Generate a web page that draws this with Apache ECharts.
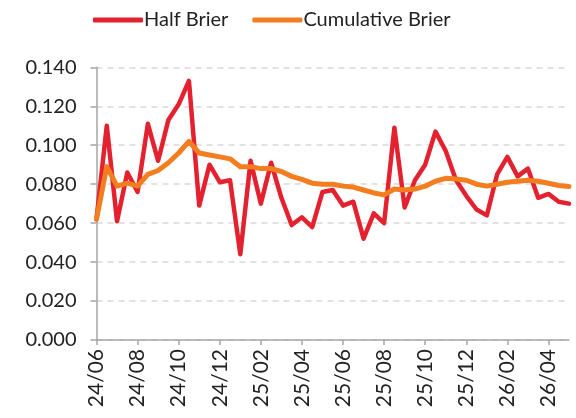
<!DOCTYPE html>
<html>
<head>
<meta charset="utf-8">
<script src="https://cdn.jsdelivr.net/npm/echarts@6/dist/echarts.min.js"></script>
<style>html,body{margin:0;padding:0;background:#fff}#c{width:576px;height:418px}</style>
</head>
<body>
<div id="c"></div>
<script>
const periods = [
  "24/06 H1","24/06 H2","24/07 H1","24/07 H2","24/08 H1","24/08 H2","24/09 H1","24/09 H2",
  "24/10 H1","24/10 H2","24/11 H1","24/11 H2","24/12 H1","24/12 H2","25/01 H1","25/01 H2",
  "25/02 H1","25/02 H2","25/03 H1","25/03 H2","25/04 H1","25/04 H2","25/05 H1","25/05 H2",
  "25/06 H1","25/06 H2","25/07 H1","25/07 H2","25/08 H1","25/08 H2","25/09 H1","25/09 H2",
  "25/10 H1","25/10 H2","25/11 H1","25/11 H2","25/12 H1","25/12 H2","26/01 H1","26/01 H2",
  "26/02 H1","26/02 H2","26/03 H1","26/03 H2","26/04 H1","26/04 H2","26/05 H1"
];
const halfBrier = [0.062,0.110,0.061,0.086,0.076,0.111,0.092,0.113,0.121,0.133,0.069,0.090,0.081,0.082,0.044,0.092,
  0.070,0.091,0.073,0.059,0.063,0.058,0.076,0.077,0.069,0.071,0.052,0.065,0.060,0.109,0.068,0.082,
  0.090,0.107,0.097,0.082,0.074,0.067,0.064,0.085,0.094,0.084,0.088,0.073,0.075,0.071,0.070];
const cumulativeBrier = [0.062,0.089,0.079,0.0805,0.079,0.085,0.087,0.091,0.096,0.102,0.096,0.095,0.094,0.093,0.089,0.089,
  0.088,0.088,0.0865,0.084,0.0825,0.0805,0.080,0.080,0.079,0.0785,0.077,0.0755,0.0745,0.0775,0.077,0.0775,
  0.079,0.0815,0.083,0.0826,0.082,0.080,0.079,0.080,0.081,0.0815,0.082,0.0815,0.0805,0.0793,0.0788];
const seriesNames = ["Half Brier","Cumulative Brier"];
const yTicks = {min:0, max:0.14, interval:0.02};

const font = 'Lato, "Noto Sans", sans-serif';
const chart = echarts.init(document.getElementById('c'), null, {renderer:'canvas'});
chart.setOption({
  animation:false,
  backgroundColor:'#ffffff',
  legend:{
    left:88, top:5, itemWidth:50, itemHeight:5, itemGap:24,
    icon:'roundRect',
    textStyle:{fontFamily:font, fontSize:20, color:'#222', padding:[0,0,0,-4]},
    data:seriesNames
  },
  grid:{left:96.5, right:7, top:67.3, bottom:78, containLabel:false},
  xAxis:{
    type:'category', data:periods, boundaryGap:false,
    axisLine:{lineStyle:{color:'#a6a6a6', width:1.5}},
    axisTick:{show:true, interval:3, length:5, lineStyle:{color:'#a6a6a6', width:1.5}},
    axisLabel:{interval:3, rotate:90, margin:9, fontFamily:font, fontSize:21, color:'#222',
      formatter:v=>v.slice(0,5)},
    splitLine:{show:false}
  },
  yAxis:{
    type:'value', min:yTicks.min, max:yTicks.max, interval:yTicks.interval,
    axisLine:{show:true, lineStyle:{color:'#a6a6a6', width:1.5}},
    axisTick:{show:true, length:6, lineStyle:{color:'#a6a6a6', width:1.5}},
    axisLabel:{margin:20, fontFamily:font, fontSize:20, color:'#222', formatter:v=>v.toFixed(3)},
    splitLine:{show:true, lineStyle:{color:'#d9d9d9', width:1.5, type:[6,5]}}
  },
  series:[
    {name:seriesNames[0], type:'line', data:halfBrier, showSymbol:false, symbol:'none',
      lineStyle:{color:'#e3212f', width:4.5, join:'round', cap:'round'}, itemStyle:{color:'#e3212f'}, z:2},
    {name:seriesNames[1], type:'line', data:cumulativeBrier, showSymbol:false, symbol:'none',
      lineStyle:{color:'#f47d20', width:5, join:'round', cap:'round'}, itemStyle:{color:'#f47d20'}, z:3}
  ]
});
</script>
</body>
</html>
